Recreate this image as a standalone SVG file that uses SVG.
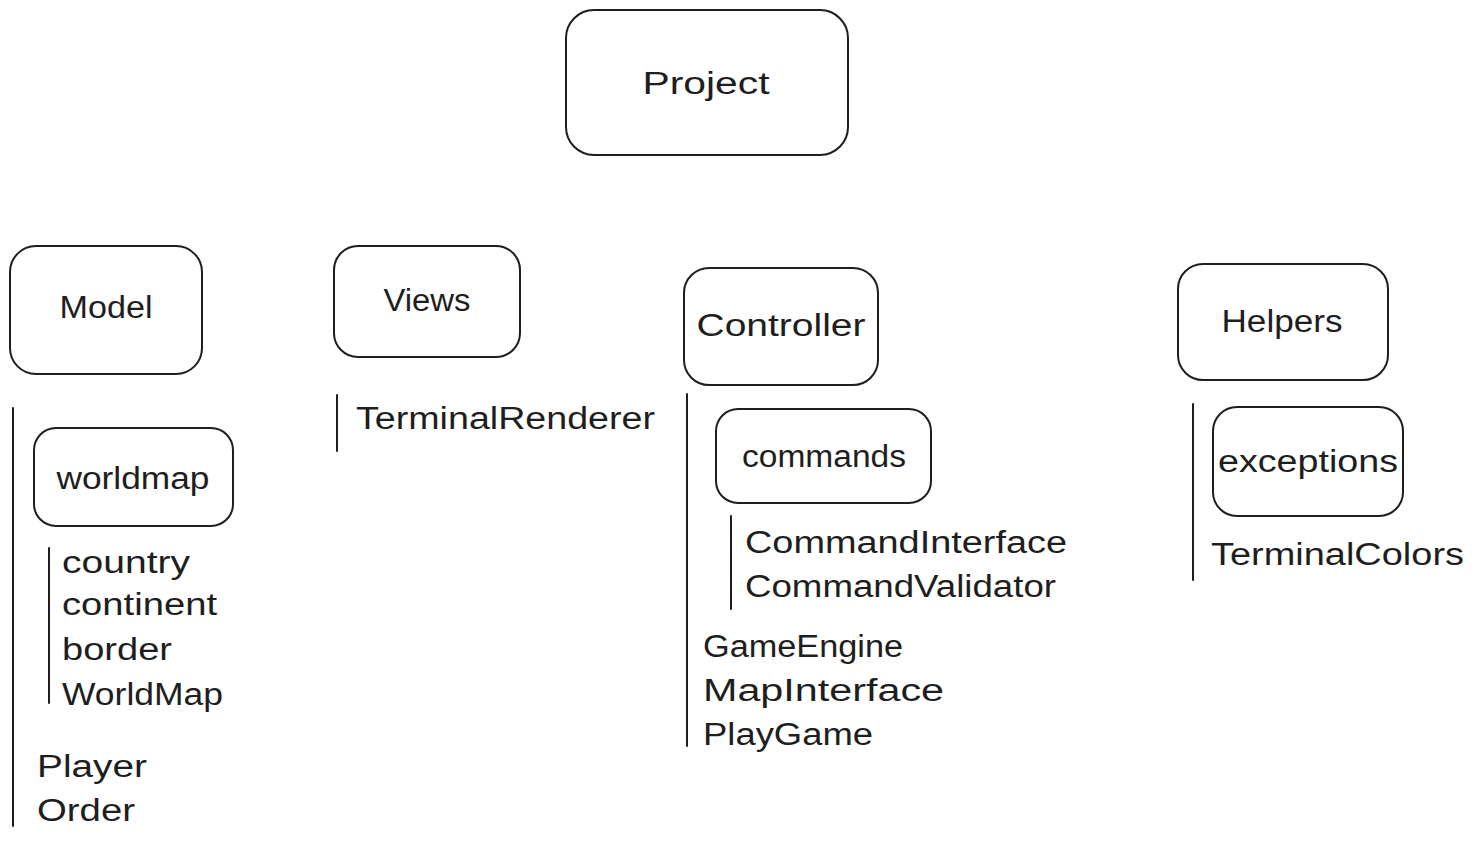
<svg xmlns="http://www.w3.org/2000/svg" width="1475" height="843" viewBox="0 0 1475 843">
<style>
.box{fill:#fff;stroke:#1e1e1e;stroke-width:2}
.ln{stroke:#1e1e1e;stroke-width:2;fill:none;stroke-linecap:round}
text{font-family:"Liberation Sans",Arial,sans-serif;font-size:31px;fill:#1e1e1e}
.c{text-anchor:middle}
</style>
<rect width="1475" height="843" fill="#fff"/>
<g id="connectors">
<line class="ln" x1="13" y1="408" x2="13" y2="826"/>
<line class="ln" x1="49" y1="548" x2="49" y2="703"/>
<line class="ln" x1="337" y1="395" x2="337" y2="451"/>
<line class="ln" x1="687" y1="394" x2="687" y2="746"/>
<line class="ln" x1="731" y1="516" x2="731" y2="609"/>
<line class="ln" x1="1193" y1="404" x2="1193" y2="580"/>
</g>
<g id="project"><rect class="box" x="566" y="10" width="282" height="145" rx="28"/><text class="c" x="706" y="94" textLength="127" lengthAdjust="spacingAndGlyphs">Project</text></g>
<g id="model"><rect class="box" x="10" y="246" width="192" height="128" rx="26"/><text class="c" x="106" y="318" textLength="93" lengthAdjust="spacingAndGlyphs">Model</text></g>
<g id="views"><rect class="box" x="334" y="246" width="186" height="111" rx="24"/><text class="c" x="427" y="311" textLength="87" lengthAdjust="spacingAndGlyphs">Views</text></g>
<g id="controller"><rect class="box" x="684" y="268" width="194" height="117" rx="25"/><text class="c" x="781" y="336" textLength="169" lengthAdjust="spacingAndGlyphs">Controller</text></g>
<g id="helpers"><rect class="box" x="1178" y="264" width="210" height="116" rx="25"/><text class="c" x="1282" y="332" textLength="121" lengthAdjust="spacingAndGlyphs">Helpers</text></g>
<g id="worldmap"><rect class="box" x="34" y="428" width="199" height="98" rx="22"/><text class="c" x="133" y="489" textLength="153" lengthAdjust="spacingAndGlyphs">worldmap</text></g>
<g id="commands"><rect class="box" x="716" y="409" width="215" height="94" rx="22"/><text class="c" x="824" y="467" textLength="164" lengthAdjust="spacingAndGlyphs">commands</text></g>
<g id="exceptions"><rect class="box" x="1213" y="407" width="190" height="109" rx="24"/><text class="c" x="1308" y="472" textLength="180" lengthAdjust="spacingAndGlyphs">exceptions</text></g>
<g id="model-items">
<text x="62" y="573" textLength="128" lengthAdjust="spacingAndGlyphs">country</text>
<text x="62" y="615" textLength="155" lengthAdjust="spacingAndGlyphs">continent</text>
<text x="62" y="660" textLength="110" lengthAdjust="spacingAndGlyphs">border</text>
<text x="62" y="705" textLength="161" lengthAdjust="spacingAndGlyphs">WorldMap</text>
<text x="37" y="777" textLength="110" lengthAdjust="spacingAndGlyphs">Player</text>
<text x="37" y="821" textLength="98" lengthAdjust="spacingAndGlyphs">Order</text>
</g>
<g id="views-items"><text x="356" y="429" textLength="299" lengthAdjust="spacingAndGlyphs">TerminalRenderer</text></g>
<g id="controller-items">
<text x="745" y="553" textLength="322" lengthAdjust="spacingAndGlyphs">CommandInterface</text>
<text x="745" y="597" textLength="311" lengthAdjust="spacingAndGlyphs">CommandValidator</text>
<text x="703" y="657" textLength="200" lengthAdjust="spacingAndGlyphs">GameEngine</text>
<text x="703" y="701" textLength="241" lengthAdjust="spacingAndGlyphs">MapInterface</text>
<text x="703" y="745" textLength="170" lengthAdjust="spacingAndGlyphs">PlayGame</text>
</g>
<g id="helpers-items"><text x="1211" y="565" textLength="253" lengthAdjust="spacingAndGlyphs">TerminalColors</text></g>
</svg>
